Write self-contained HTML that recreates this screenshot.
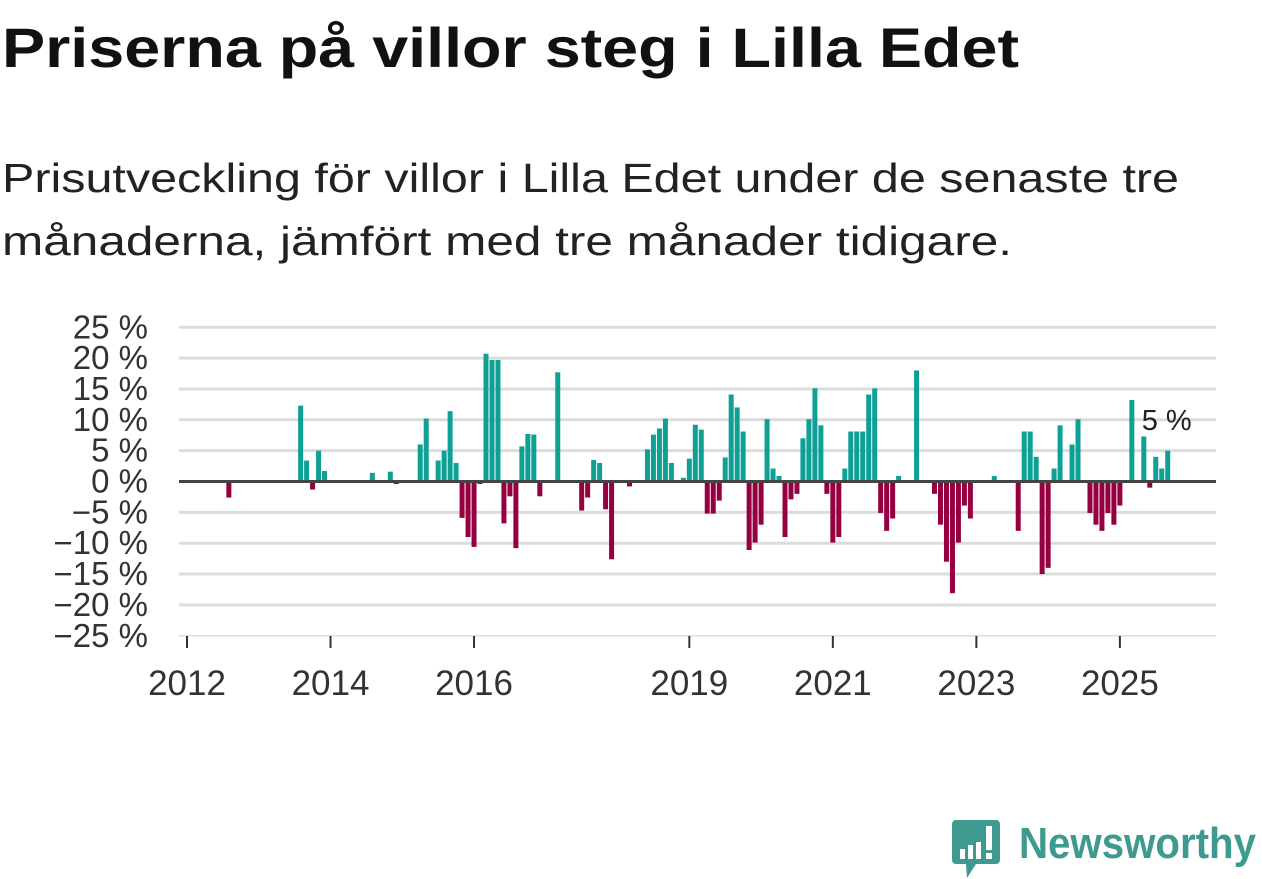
<!DOCTYPE html>
<html><head><meta charset="utf-8"><style>
html,body{margin:0;padding:0;background:#fff;}
svg{display:block;font-family:"Liberation Sans","DejaVu Sans",sans-serif;}
</style></head><body>
<svg id="chart" width="1262" height="879" viewBox="0 0 1262 879" xmlns="http://www.w3.org/2000/svg">
<text x="2" y="67" font-size="56" font-weight="bold" fill="#111" textLength="1017" lengthAdjust="spacingAndGlyphs">Priserna på villor steg i Lilla Edet</text>
<text x="2" y="192" font-size="41" fill="#222" textLength="1177" lengthAdjust="spacingAndGlyphs">Prisutveckling för villor i Lilla Edet under de senaste tre</text>
<text x="2" y="255" font-size="41" fill="#222" textLength="1010" lengthAdjust="spacingAndGlyphs">månaderna, jämfört med tre månader tidigare.</text>
<g id="grid"></g>
<g id="ylabels"></g>
<g id="xaxis"></g>
<g id="bars"></g>
<line id="zero" x1="179" x2="1216" stroke="#444" stroke-width="3"/>
<text id="lastlabel" font-size="29" fill="#222">5 %</text>
<g>
<path d="M956 820 h40 a4 4 0 0 1 4 4 v36 a4 4 0 0 1 -4 4 h-20 l-9 14 l-1 -14 h-10 a4 4 0 0 1 -4 -4 v-36 a4 4 0 0 1 4 -4z" fill="#3e9a8f"/>
<rect x="960" y="849" width="5" height="10" fill="#fff"/><rect x="968" y="845" width="5" height="14" fill="#fff"/><rect x="976" y="842" width="5" height="17" fill="#fff"/><rect x="986" y="826" width="6" height="24" fill="#fff"/><rect x="986" y="853" width="6" height="6" fill="#fff"/>
<text x="1019" y="858" font-size="44" font-weight="bold" fill="#3e9a8f" textLength="237" lengthAdjust="spacingAndGlyphs">Newsworthy</text>
</g>
</svg>
<script>
const startYear = 2012;
const values = [0,0,0,0,0,0,0,-2.6,0,0,0,0,0,0,0,0,0,0,0,12.3,3.4,-1.3,5.0,1.7,0,0,0,0,0,0,0,1.4,0,0,1.6,-0.4,0,0,0,6.0,10.2,0,3.4,5.0,11.4,3.0,-5.9,-9.0,-10.6,-0.4,20.7,19.7,19.7,-6.8,-2.4,-10.8,5.7,7.7,7.6,-2.4,0,0,17.7,0,0,0,-4.7,-2.6,3.5,3.0,-4.5,-12.6,0,0,-0.8,0,0,5.2,7.6,8.6,10.2,3.0,0,0.6,3.7,9.2,8.4,-5.2,-5.2,-3.1,3.9,14.1,12.0,8.1,-11.1,-9.9,-7.0,10.1,2.1,0.9,-9.0,-2.9,-2.0,7.0,10.1,15.1,9.1,-2.0,-9.9,-9.0,2.1,8.1,8.1,8.1,14.1,15.1,-5.1,-8.0,-6.0,0.9,0,0,18.0,0,0,-2.0,-7.0,-13.0,-18.1,-9.9,-3.9,-6.0,0,0,0,0.9,0,0,0,-8.0,8.1,8.1,4.0,-15.0,-14.0,2.1,9.1,0,6.0,10.1,0,-5.1,-7.0,-8.0,-5.1,-7.0,-3.9,0,13.2,0,7.3,-1.0,4.0,2.1,5.0];
const yTicks = [25,20,15,10,5,0,-5,-10,-15,-20,-25];
const xTicks = [2012,2014,2016,2019,2021,2023,2025];
const lastLabel = "5 %";

const NS = "http://www.w3.org/2000/svg";
function y(v){ return 481.5 - v * 6.17; }
function xMonth(m){ return 187 + m * 5.98; }
function xYear(yr){ return xMonth((yr - startYear) * 12); }
function mk(tag, attrs, parent){ const e=document.createElementNS(NS,tag); for(const k in attrs) e.setAttribute(k, attrs[k]); parent.appendChild(e); return e; }

const grid=document.getElementById('grid'), yl=document.getElementById('ylabels'), xa=document.getElementById('xaxis'), bars=document.getElementById('bars');
yTicks.forEach(t=>{
  if(t!==0 && t!==-25){
    const g=mk('line',{x1:179,x2:1216,y1:y(t),y2:y(t),stroke:'#dcdcdc','stroke-width':3},grid);
    
    
  }
  const tx=mk('text',{x:148,y:y(t)+11,'text-anchor':'end','font-size':33,fill:'#333'},yl);
  tx.textContent=(t<0?'\u2212'+(-t):t)+' %';
  
  
});
const base=mk('line',{x1:179,x2:1216,y1:y(-25),y2:y(-25),stroke:'#dcdcdc','stroke-width':1.5},xa);


xTicks.forEach(yr=>{
  const tk=mk('line',{x1:xYear(yr),x2:xYear(yr),y1:636,y2:648,stroke:'#333','stroke-width':2},xa);
  
  
  const tx=mk('text',{x:xYear(yr),y:695,'text-anchor':'middle','font-size':35,fill:'#333'},xa);
  tx.textContent=yr;
  
  
});
const zl=document.getElementById('zero'); zl.setAttribute('y1',y(0)); zl.setAttribute('y2',y(0));
values.forEach((v,i)=>{
  if(v===0) return;
  const top=Math.min(y(v),y(0)), h=Math.abs(y(v)-y(0));
  const r=mk('rect',{x:xMonth(i)-2.5,y:top,width:5,height:h,fill:v>0?'#0ea095':'#960040'},bars);
  
  
});
const ll=document.getElementById('lastlabel');
ll.textContent=lastLabel;
ll.setAttribute('x', xMonth(values.length-1)-26);
ll.setAttribute('y', y(values[values.length-1]+5)+10);
</script>
</body></html>
